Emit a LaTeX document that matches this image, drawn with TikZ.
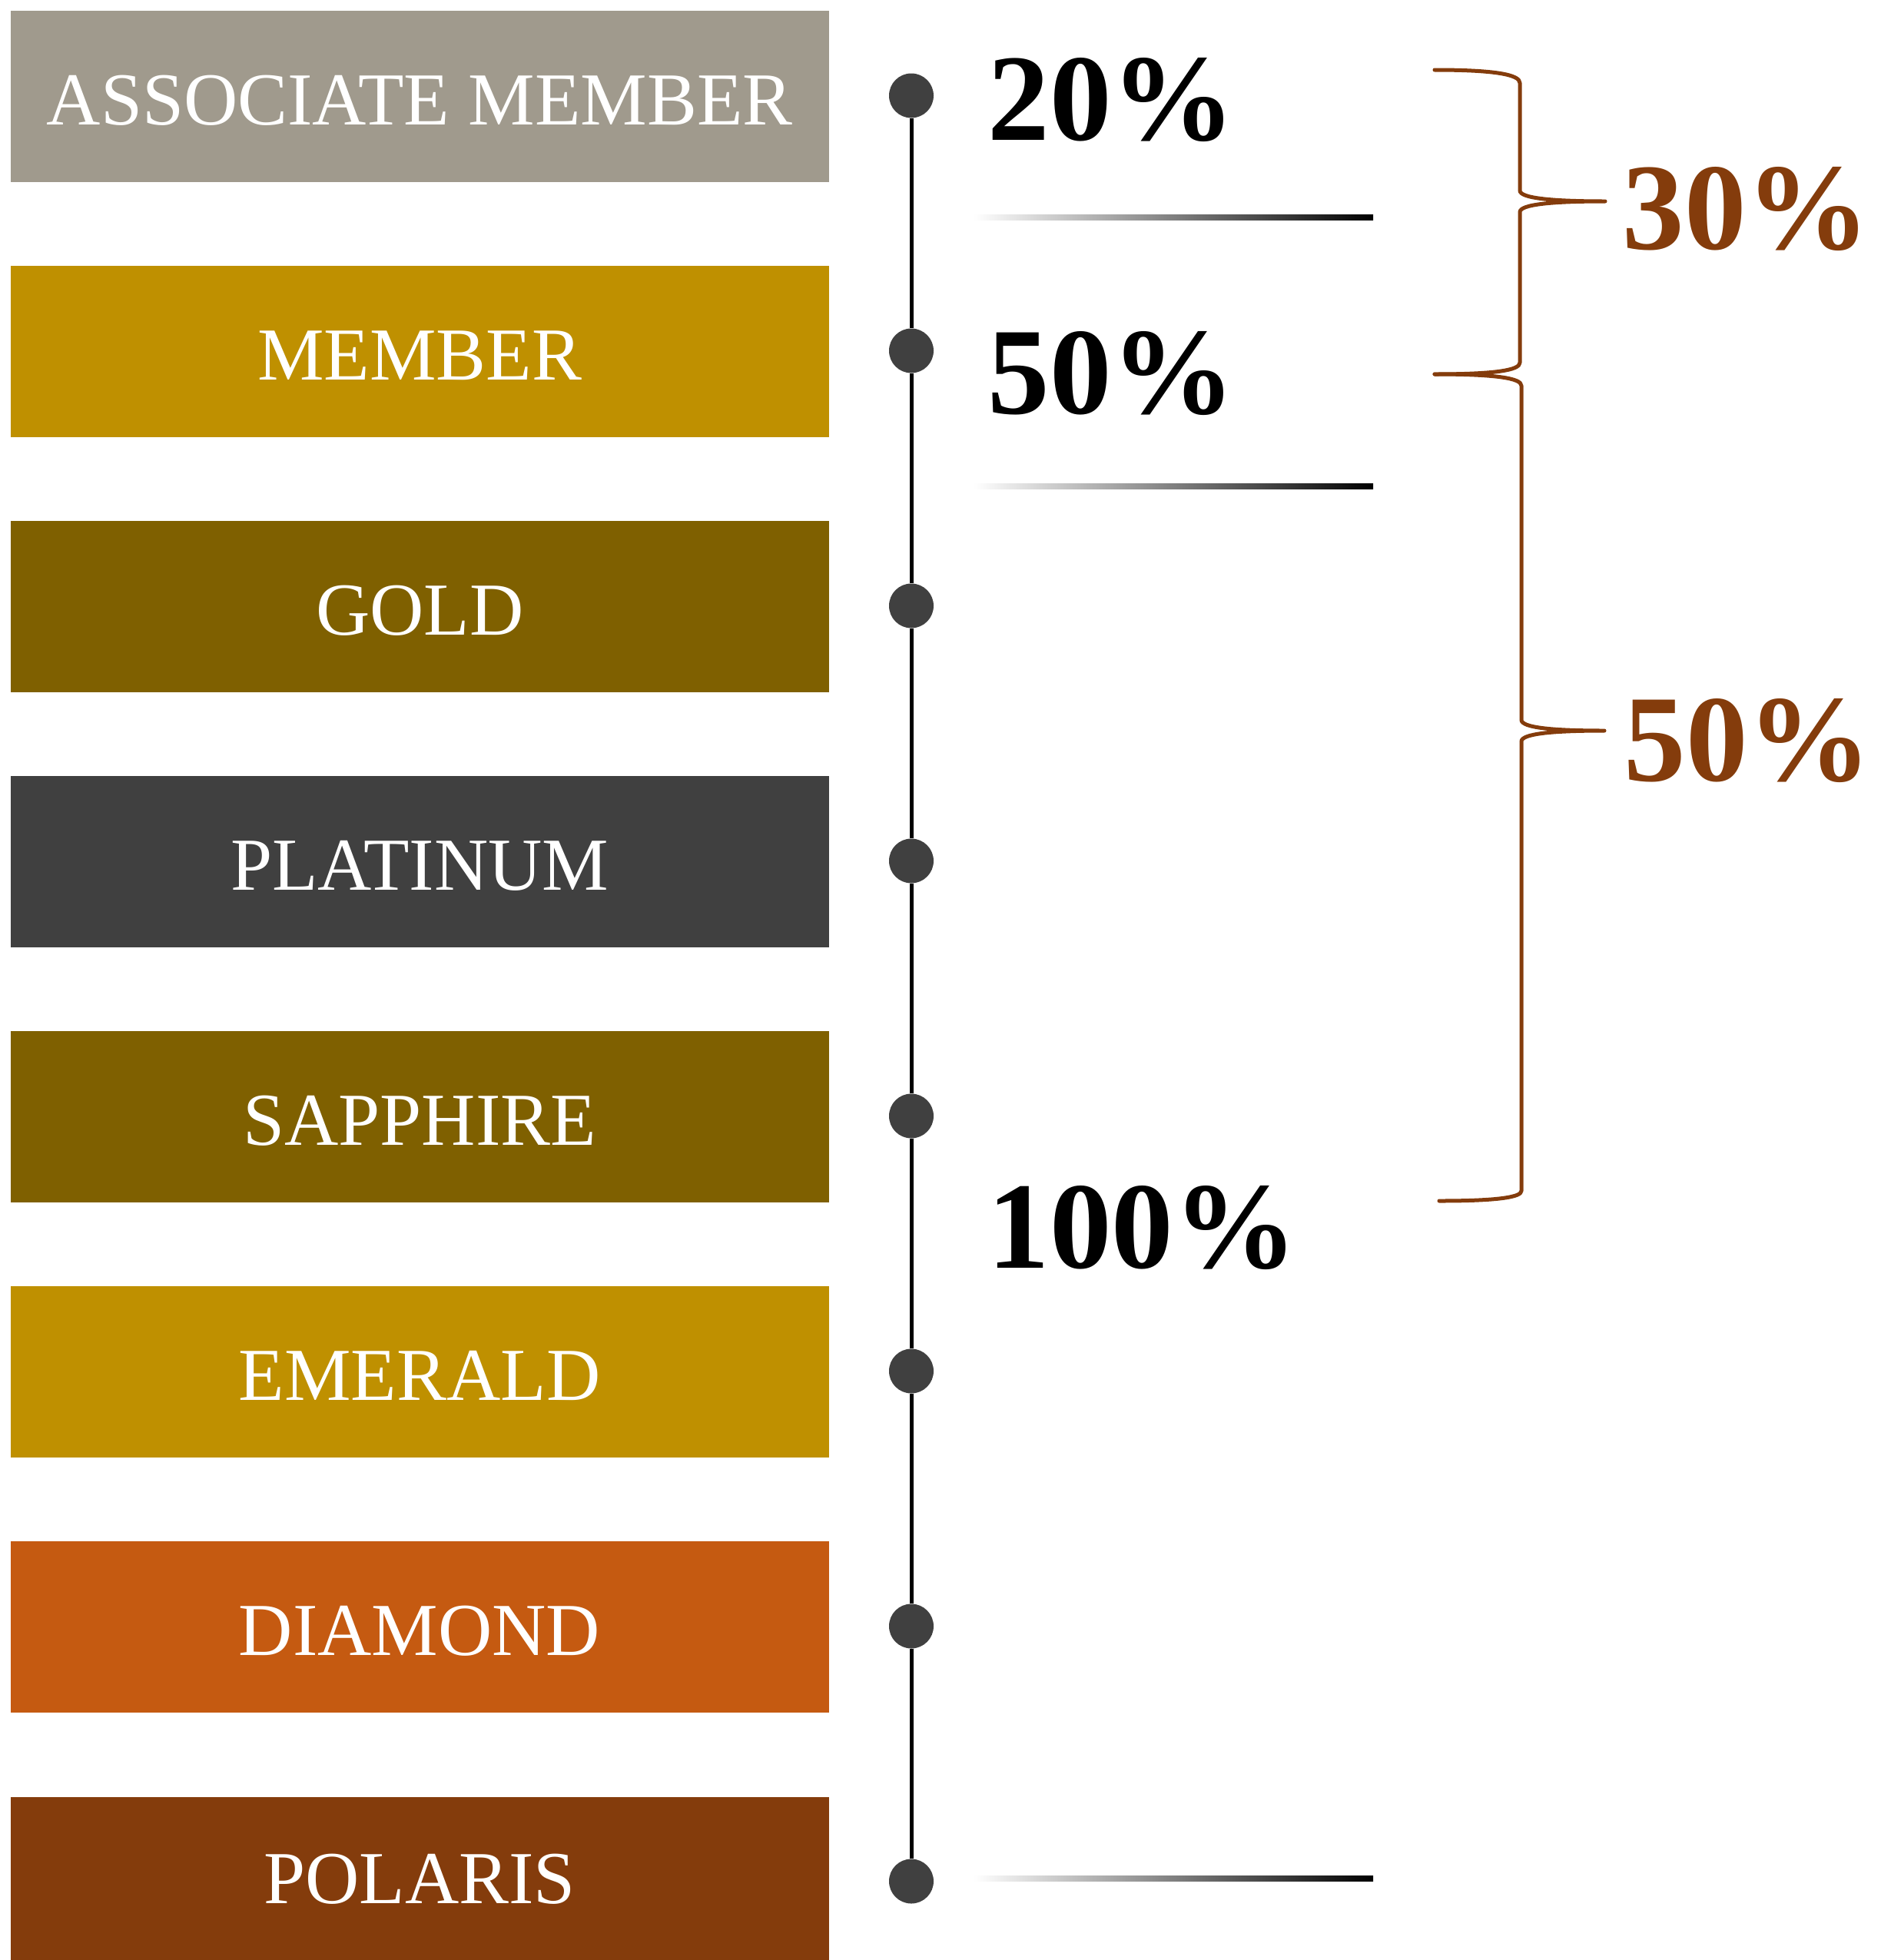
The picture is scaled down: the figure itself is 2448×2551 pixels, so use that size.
\documentclass[tikz,border=0pt]{standalone}
\usepackage{fontspec}
\setmainfont{Liberation Serif}
\definecolor{cAssoc}{HTML}{A09A8D}
\definecolor{cMember}{HTML}{BF9000}
\definecolor{cGold}{HTML}{7F6000}
\definecolor{cPlat}{HTML}{404040}
\definecolor{cDiam}{HTML}{C55A11}
\definecolor{cPol}{HTML}{843C0C}
\definecolor{dotgrey}{HTML}{404040}
\definecolor{bracebrown}{HTML}{843C0C}
\begin{document}
\begin{tikzpicture}[x=0.3pt,y=-0.3pt,
  tier/.style={rectangle, inner sep=0pt, minimum width=319.5pt, minimum height=66.9pt,
    text=white, font=\fontsize{29.2}{30}\selectfont, text height=22.6pt, text depth=0pt,
    anchor=north west},
  dot/.style={circle, fill=dotgrey, inner sep=0pt, minimum size=17.4pt},
  pct/.style={anchor=base west, inner sep=0pt, font=\fontsize{48.3}{50}\selectfont\bfseries},
  brace/.style={draw=bracebrown, line width=1.5pt, line cap=round, line join=round},
  fade/.style={left color=white, right color=black}]
\useasboundingbox (0,0) rectangle (2448,2551);
% tier boxes
\node[tier, fill=cAssoc]  (b1) at (13,13)   {ASSOCIATE MEMBER};
\node[tier, fill=cMember] (b2) at (13,345)  {MEMBER};
\node[tier, fill=cGold]   (b3) at (13,677)  {GOLD};
\node[tier, fill=cPlat]   (b4) at (13,1009) {PLATINUM};
\node[tier, fill=cGold]   (b5) at (13,1341) {SAPPHIRE};
\node[tier, fill=cMember] (b6) at (13,1673) {EMERALD};
\node[tier, fill=cDiam]   (b7) at (13,2005) {DIAMOND};
\node[tier, fill=cPol, minimum height=63.9pt, text height=19.6pt] (b8) at (13,2338) {POLARIS};
% timeline dots
\foreach \i in {1,...,8}{
  \node[dot] (d\i) at (1186,{124.5+332*(\i-1)}) {};
}
\foreach \i/\j in {1/2,2/3,3/4,4/5,5/6,6/7,7/8}{
  \draw[line width=1.5pt, black] (d\i) -- (d\j);
}
% gradient rules
\shade[fade] (1267,279.5) rectangle (1787,286.5);
\shade[fade] (1267,629.5) rectangle (1787,636.5);
\shade[fade] (1267,2441.5) rectangle (1787,2448.5);
% black percentages
\node[pct] (p20)  at (1285,182)  {20\%};
\node[pct] (p50)  at (1285,538)  {50\%};
\node[pct] (p100) at (1285,1650) {100\%};
% braces
\draw[brace] (1867,91) .. controls (1945,91) and (1978,97) .. (1978,108)
  -- (1978,248) .. controls (1978,258) and (2020,262) .. (2089,262)
  .. controls (2020,262) and (1978,266) .. (1978,276)
  -- (1978,472) .. controls (1978,482) and (1945,487) .. (1867,487);
\draw[brace] (1867,487) .. controls (1945,487) and (1980,492) .. (1980,502)
  -- (1980,937) .. controls (1980,947) and (2020,951) .. (2088,951)
  .. controls (2020,951) and (1980,955) .. (1980,965)
  -- (1980,1550) .. controls (1980,1558) and (1950,1563) .. (1873,1563);
% brown percentages
\node[pct, text=bracebrown] (q30) at (2111,324)  {30\%};
\node[pct, text=bracebrown] (q50) at (2113,1016) {50\%};
\end{tikzpicture}
\end{document}
